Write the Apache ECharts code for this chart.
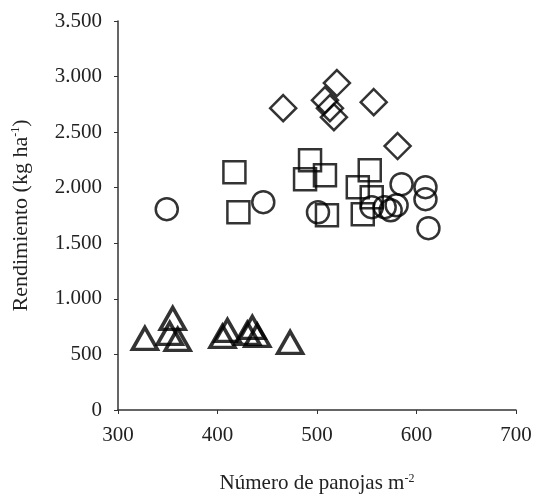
<!DOCTYPE html>
<html>
<head>
<meta charset="utf-8">
<script src="https://cdn.jsdelivr.net/npm/echarts@6/dist/echarts.min.js"></script>
<style>html,body{margin:0;padding:0;background:#fff}#c{width:536px;height:494px}</style>
</head>
<body>
<div id="c"></div>
<script>
// Data (x = panojas m-2, y = rendimiento kg ha-1)
var circlesX = [349, 446, 501, 555, 568, 574, 580, 585, 609, 609, 612];
var circlesY = [1807, 1870, 1779, 1825, 1825, 1797, 1842, 2032, 2005, 1897, 1636];
var squaresX = [417, 421, 493, 488, 508, 510, 553, 541, 546, 555];
var squaresY = [2140, 1779, 2248, 2077, 2113, 1752, 2158, 2005, 1761, 1915];
var diamondsX = [466, 520, 508, 513, 517, 557, 581];
var diamondsY = [2716, 2942, 2788, 2716, 2635, 2770, 2375];
var trianglesX = [327, 355, 352, 360, 410, 405, 435, 430, 440, 473];
var trianglesY = [644, 824, 689, 635, 716, 662, 743, 689, 671, 608];

var xTicks = [300, 400, 500, 600, 700];
var yTicks = [0, 500, 1000, 1500, 2000, 2500, 3000, 3500];

function pairs(xs, ys) { return xs.map(function (x, i) { return [x, ys[i]]; }); }
function fmtThousands(v) { return String(v).replace(/\B(?=(\d{3})+(?!\d))/g, '.'); }

var font = '"Liberation Serif", "DejaVu Serif", serif';
var chart = echarts.init(document.getElementById('c'), null, { renderer: 'canvas' });

function sc(name, data, symbol, size, bw) {
  return {
    name: name, type: 'scatter', data: data, symbol: symbol, symbolSize: size,
    itemStyle: { color: 'rgba(0,0,0,0)', borderColor: '#000', borderWidth: bw },
    emphasis: { disabled: true }, animation: false
  };
}

chart.setOption({
  backgroundColor: '#fff',
  animation: false,
  grid: { left: 118, right: 20, top: 21, bottom: 84, containLabel: false, outerBoundsMode: 'none' },
  xAxis: {
    type: 'value', min: xTicks[0], max: xTicks[xTicks.length - 1], interval: 100,
    splitLine: { show: false },
    axisLine: { onZero: false, lineStyle: { color: '#333', width: 1.5 } },
    axisTick: { show: true, inside: false, length: 4, lineStyle: { color: '#333' } },
    axisLabel: { color: '#222', fontFamily: font, fontSize: 21, margin: 15 },
    name: '{a|Número de panojas m}{s|-2}', nameLocation: 'middle', nameGap: 63,
    nameTextStyle: { rich: {
      a: { fontFamily: font, fontSize: 21, color: '#222' },
      s: { fontFamily: font, fontSize: 12, color: '#222', verticalAlign: 'top', padding: [0, 0, 9, 0] }
    } }
  },
  yAxis: {
    type: 'value', min: yTicks[0], max: yTicks[yTicks.length - 1], interval: 500,
    splitLine: { show: false },
    axisLine: { show: true, lineStyle: { color: '#333', width: 1.5 } },
    axisTick: { show: true, inside: false, length: 4, lineStyle: { color: '#333' } },
    axisLabel: { color: '#222', fontFamily: font, fontSize: 21, margin: 16, formatter: fmtThousands },
    name: '{a|Rendimiento (kg ha}{s|-1}{a|)}', nameLocation: 'middle', nameGap: 86, nameRotate: 90,
    nameTextStyle: { rich: {
      a: { fontFamily: font, fontSize: 22, color: '#222' },
      s: { fontFamily: font, fontSize: 12, color: '#222', verticalAlign: 'top', padding: [0, 0, 9, 0] }
    } }
  },
  series: [
    sc('circles', pairs(circlesX, circlesY), 'circle', 22, 2.5),
    sc('squares', pairs(squaresX, squaresY), 'rect', 22, 2.5),
    sc('diamonds', pairs(diamondsX, diamondsY), 'diamond', 26, 2.5),
    sc('triangles', pairs(trianglesX, trianglesY), 'triangle', [25, 22], 3.5)
  ]
});
</script>
</body>
</html>
